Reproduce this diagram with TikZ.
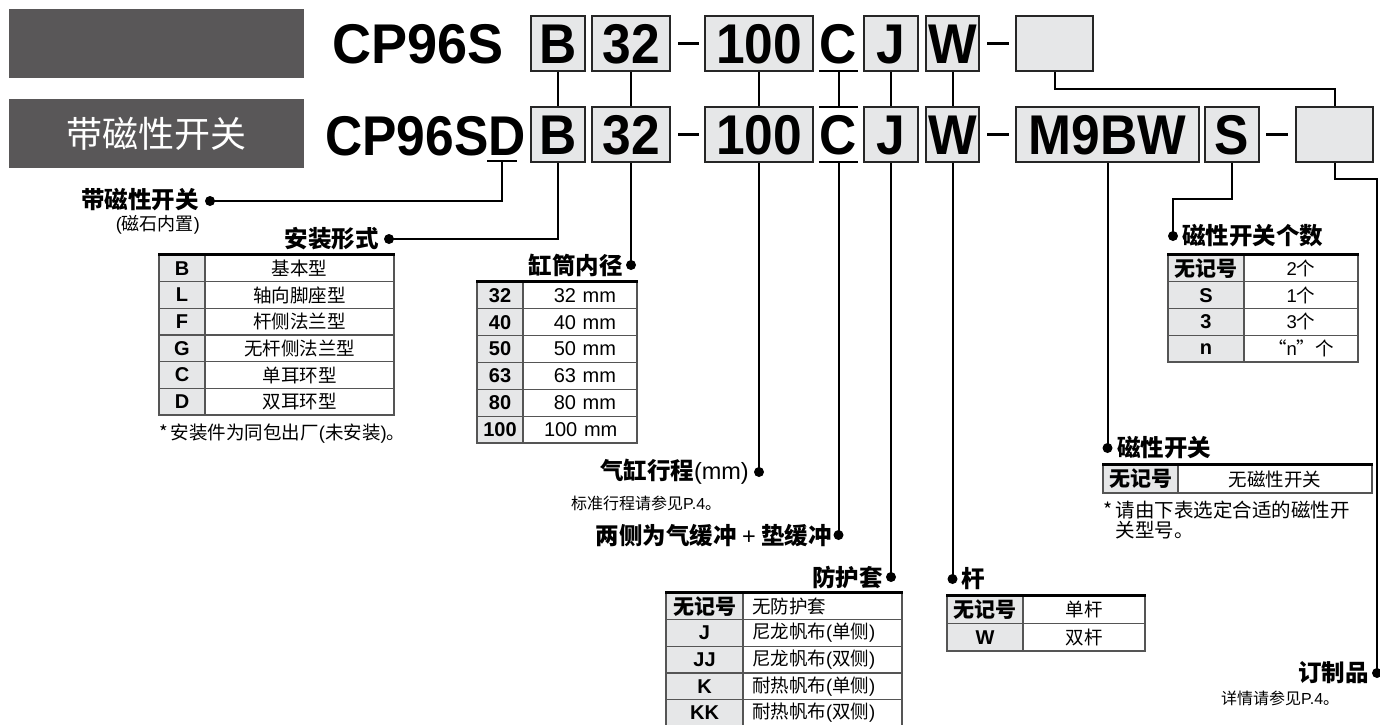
\documentclass[tikz,border=0pt]{standalone}
\usepackage{fontspec}
\setmainfont{Liberation Sans}
\newfontfamily\cjk{Noto Sans CJK SC}
\newfontfamily\codefont[FakeStretch=0.92]{Liberation Sans}
\newfontfamily\codefontw[FakeStretch=0.965]{Liberation Sans}
\newcommand\fsz[1]{\fontsize{#1}{#1}\selectfont}
\newcommand\lat[1]{{\normalfont #1}}
\newcommand\kwnone{{\cjk\bfseries\fsz{21}无记号}}
\definecolor{hdrgray}{RGB}{89,87,88}
\definecolor{cellgray}{RGB}{230,231,232}
\definecolor{rulegray}{RGB}{85,85,85}
\tikzset{
  conn/.style={line width=2pt, black},
  dashbar/.style={line width=3.4pt, black},
  codebox/.style={draw=black!85, line width=1.8pt, fill=cellgray, minimum height=55pt, inner sep=0pt, text height=40pt, text depth=0pt, font=\codefont\bfseries\fsz{56}},
  codetext/.style={inner sep=0pt, font=\codefont\bfseries\fsz{56}},
  hdrbox/.style={fill=hdrgray, draw=none, inner sep=0pt, minimum width=295pt, minimum height=69pt, anchor=north west},
  dotnode/.style={circle, fill=black, inner sep=0pt, minimum size=10pt},
  lab/.style={inner sep=0pt, font=\cjk\bfseries\fsz{23.5}},
  sublab/.style={inner sep=0pt, font=\cjk\fsz{16}},
  notelab/.style={inner sep=0pt, font=\cjk\fsz{18.5}},
  keycell/.style={draw=rulegray, line width=1.2pt, fill=cellgray, inner sep=0pt, font=\bfseries\fsz{20}},
  valcell/.style={draw=rulegray, line width=1.2pt, fill=white, inner sep=0pt, font=\cjk\fsz{18.5}},
  numcell/.style={draw=rulegray, line width=1.2pt, fill=white, inner sep=0pt, font=\fsz{20}},
  toprule/.style={line width=2.6pt, black},
}
\begin{document}
\begin{tikzpicture}[x=1pt,y=-1pt]
\useasboundingbox (0,0) rectangle (1380,724);
\fill[white] (0,0) rectangle (1380,724);

% ---------- header gray boxes ----------
\node[hdrbox] (g1) at (9,9) {};
\node[hdrbox, text=white, font=\cjk\fsz{36}] (g2) at (9,99) {带磁性开关};

% ---------- row 1 ----------
\node[codetext, font=\codefontw\bfseries\fsz{56}, anchor=base west] (m1) at (332,63.5) {CP96S};
\node[codebox, minimum width=54pt] (b1) at (558,43.5) {B};
\node[codebox, minimum width=78pt] (t1) at (631,43.5) {32};
\draw[dashbar] (678,43.5) -- (699,43.5);
\node[codebox, minimum width=108pt] (h1) at (759,43.5) {100};
\node[codetext, minimum width=39pt, minimum height=55pt, text height=40pt, text depth=0pt] (c1) at (838.5,43.5) {C};
\draw[conn] (c1.south west) -- (c1.south east);
\node[codebox, minimum width=54pt] (j1) at (891,43.5) {J};
\node[codebox, minimum width=53pt] (w1) at (952.5,43.5) {W};
\draw[dashbar] (987,43.5) -- (1009,43.5);
\node[codebox, minimum width=77pt] (e1) at (1054.5,43.5) {};

% ---------- row 2 ----------
\node[codetext, anchor=base west] (m2) at (325,155.5) {CP96SD};
\coordinate (dl) at (487,161);
\coordinate (dr) at (517,161);
\coordinate (du) at (502,161);
\draw[conn] (dl) -- (dr);
\node[codebox, minimum width=54pt] (b2) at (558,134.5) {B};
\node[codebox, minimum width=78pt] (t2) at (631,134.5) {32};
\draw[dashbar] (678,134.5) -- (699,134.5);
\node[codebox, minimum width=108pt] (h2) at (759,134.5) {100};
\node[codetext, minimum width=39pt, minimum height=55pt, text height=40pt, text depth=0pt] (c2) at (838.5,134.5) {C};
\draw[conn] (c2.south west) -- (c2.south east);
\draw[conn] (c2.north west) -- (c2.north east);
\node[codebox, minimum width=54pt] (j2) at (891,134.5) {J};
\node[codebox, minimum width=53pt] (w2) at (952.5,134.5) {W};
\draw[dashbar] (987,134.5) -- (1009,134.5);
\node[codebox, minimum width=183pt] (s9) at (1107.5,134.5) {M9BW};
\node[codebox, minimum width=54pt] (s2) at (1232,134.5) {S};
\draw[dashbar] (1266,134.5) -- (1288,134.5);
\node[codebox, minimum width=77pt] (e2) at (1334.5,134.5) {};

% ---------- links between rows ----------
\draw[conn] (b1.south) -- (b2.north);
\draw[conn] (t1.south) -- (t2.north);
\draw[conn] (h1.south) -- (h2.north);
\draw[conn] (c1.south) -- (c2.north);
\draw[conn] (j1.south) -- (j2.north);
\draw[conn] (w1.south) -- (w2.north);
\draw[conn] (e1.south) -- ++(0,17) -| (e2.north);

% ---------- dots ----------
\node[dotnode] (dD) at (210,201) {};
\node[dotnode] (dB) at (389,239) {};
\node[dotnode] (dT) at (631,265) {};
\node[dotnode] (dH) at (759,472) {};
\node[dotnode] (dC) at (838.5,535) {};
\node[dotnode] (dJ) at (891,577) {};
\node[dotnode] (dW) at (952.5,579) {};
\node[dotnode] (dM) at (1107.5,448) {};
\node[dotnode] (dS) at (1173,236) {};
\node[dotnode] (dE) at (1377,673) {};

% ---------- connectors down ----------
\draw[conn] (du) |- (dD.center);
\draw[conn] (b2.south) |- (dB.center);
\draw[conn] (t2.south) -- (dT.center);
\draw[conn] (h2.south) -- (dH.center);
\draw[conn] (c2.south) -- (dC.center);
\draw[conn] (j2.south) -- (dJ.center);
\draw[conn] (w2.south) -- (dW.center);
\draw[conn] (s9.south) -- (dM.center);
\draw[conn] (s2.south) -- ++(0,36) -| (dS.center);
\draw[conn] (e2.south) -- ++(0,16) -| (dE.center);

% ---------- labels ----------
\node[lab, anchor=east] (lD) at (199,200) {带磁性开关};
\node[sublab, anchor=east, font=\cjk\fsz{18}] (lD2) at (200,225) {\lat{(}磁石内置\lat{)}};
\node[lab, anchor=east] (lB) at (379,239) {安装形式};
\node[lab, anchor=east] (lT) at (623,265) {缸筒内径};
\node[lab, anchor=east] (lH) at (749,472) {气缸行程\lat{(mm)}};
\node[sublab, anchor=west] (lH2) at (571,503) {标准行程请参见\lat{P.4}。};
\node[lab, anchor=east] (lC) at (832,536) {两侧为气缓冲 \lat{+} 垫缓冲};
\node[lab, anchor=east] (lJ) at (883,577) {防护套};
\node[lab, anchor=west] (lW) at (961,579) {杆};
\node[lab, anchor=west] (lM) at (1117,448) {磁性开关};
\node[lab, anchor=west] (lS) at (1182,236) {磁性开关个数};
\node[lab, anchor=east] (lE) at (1369,673) {订制品};
\node[sublab, anchor=west] (lE2) at (1221,698) {详情请参见\lat{P.4}。};

% ---------- table: mounting ----------
\foreach \k/\v [count=\i] in {B/基本型, L/轴向脚座型, F/杆侧法兰型, G/无杆侧法兰型, C/单耳环型, D/双耳环型} {
  \node[keycell, minimum width=46pt, minimum height=26.67pt] (ak\i) at (182, 255+26.67*\i-13.33) {\k};
  \node[valcell, minimum width=189pt, minimum height=26.67pt] (av\i) at (299.5, 255+26.67*\i-13.33) {\v};
}
\draw[toprule] (ak1.north west) -- (av1.north east);
\node[notelab, anchor=west] (nA) at (159,434) {*\,安装件为同包出厂\lat{(}未安装\lat{)}。};

% ---------- table: bore ----------
\foreach \k [count=\i] in {32,40,50,63,80,100} {
  \node[keycell, minimum width=46pt, minimum height=26.83pt] (bk\i) at (500, 282+26.83*\i-13.415) {\k};
  \node[numcell, minimum width=114pt, minimum height=26.83pt, text width=72pt, align=right] (bv\i) at (580, 282+26.83*\i-13.415) {\k~mm};
}
\draw[toprule] (bk1.north west) -- (bv1.north east);

% ---------- table: boot ----------
\foreach \k/\v [count=\i] in {\kwnone/无防护套, J/尼龙帆布\lat{(}单侧\lat{)}, JJ/尼龙帆布\lat{(}双侧\lat{)}, K/耐热帆布\lat{(}单侧\lat{)}, KK/耐热帆布\lat{(}双侧\lat{)}} {
  \node[keycell, minimum width=77pt, minimum height=26.67pt] (ck\i) at (704.5, 593+26.67*\i-13.33) {\k};
  \node[valcell, minimum width=159pt, minimum height=26.67pt, text width=141pt, align=left] (cv\i) at (822.5, 593+26.67*\i-13.33) {\v};
}
\draw[toprule] (ck1.north west) -- (cv1.north east);

% ---------- table: rod ----------
\foreach \k/\v [count=\i] in {\kwnone/单杆, W/双杆} {
  \node[keycell, minimum width=76pt, minimum height=27.5pt] (rk\i) at (985, 596+27.5*\i-13.75) {\k};
  \node[valcell, minimum width=122pt, minimum height=27.5pt] (rv\i) at (1084, 596+27.5*\i-13.75) {\v};
}
\draw[toprule] (rk1.north west) -- (rv1.north east);

% ---------- table: number of switches ----------
\foreach \k/\v [count=\i] in {\kwnone/\lat{2}个, S/\lat{1}个, 3/\lat{3}个, n/“\lat{n}”个} {
  \node[keycell, minimum width=76pt, minimum height=26.75pt] (nk\i) at (1206, 255+26.75*\i-13.375) {\k};
  \node[valcell, minimum width=114pt, minimum height=26.75pt] (nv\i) at (1301, 255+26.75*\i-13.375) {\v};
}
\draw[toprule] (nk1.north west) -- (nv1.north east);

% ---------- table: switch ----------
\node[keycell, minimum width=75pt, minimum height=28pt] (sk1) at (1140.5,479) {\kwnone};
\node[valcell, minimum width=194pt, minimum height=28pt] (sv1) at (1275,479) {无磁性开关};
\draw[toprule] (sk1.north west) -- (sv1.north east);
\node[notelab, anchor=north west, align=left, font=\cjk\fsz{19.5}] (nS) at (1103,501) {*\,请由下表选定合适的磁性开\\\hphantom{*\,}关型号。};
\end{tikzpicture}
\end{document}
